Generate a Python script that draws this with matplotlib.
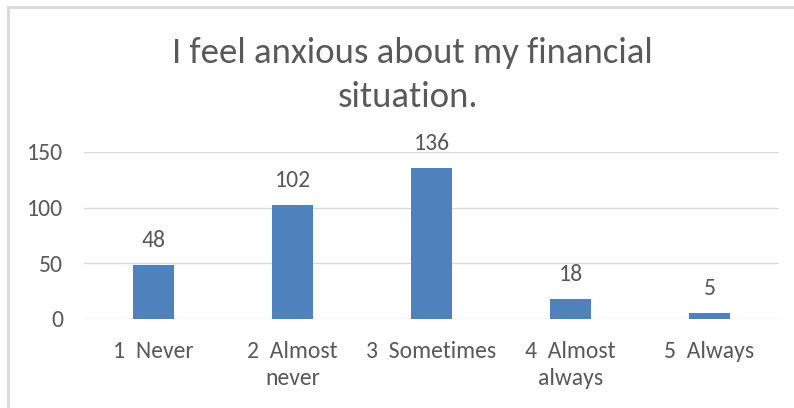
import matplotlib.pyplot as plt
from matplotlib.patches import Rectangle

categories = ['1  Never', '2  Almost\nnever', '3  Sometimes', '4  Almost\nalways', '5  Always']
counts = [48, 102, 136, 18, 5]
yticks = [0, 50, 100, 150]
title_lines = ['I feel anxious about my financial', 'situation.']

text_color = '#595959'
plt.rcParams['font.family'] = ['Carlito', 'DejaVu Sans']

fig = plt.figure(figsize=(7.94, 4.08), dpi=100)
ax = fig.add_axes([84 / 794, 1 - 318.7 / 408, 695 / 794, 166.7 / 408])

x = range(len(categories))
ax.bar(x, counts, width=0.30, color='#4F81BD', zorder=3)

for xi, v in zip(x, counts):
    ax.annotate(str(v), (xi, v), xytext=(0, 13), textcoords='offset points',
                ha='center', va='baseline', fontsize=17, color=text_color)

ax.set_xlim(-0.5, len(categories) - 0.5)
ax.set_ylim(0, 150)
ax.set_yticks(yticks)
ax.set_xticks(list(x))
ax.set_xticklabels(categories, linespacing=1.38)
ax.tick_params(axis='both', length=0, labelsize=17, labelcolor=text_color)
ax.tick_params(axis='y', pad=15)
ax.tick_params(axis='x', pad=16)
ax.grid(axis='y', color='#D9D9D9', linewidth=1, zorder=0)
for s in ax.spines.values():
    s.set_visible(False)

fig.text(412 / 794, 1 - 63 / 408, title_lines[0],
         ha='center', va='baseline', fontsize=26.5, color=text_color)
fig.text(408 / 794, 1 - 107 / 408, title_lines[1],
         ha='center', va='baseline', fontsize=26.5, color=text_color)

# chart frame, only the top and left edges are in view
fig.add_artist(Rectangle((8 / 794, -0.1), 1.2, 1.1 - 7 / 408,
                         transform=fig.transFigure, fill=False,
                         edgecolor='#D9D9D9', linewidth=2))

fig.savefig('out.png', dpi=100)
